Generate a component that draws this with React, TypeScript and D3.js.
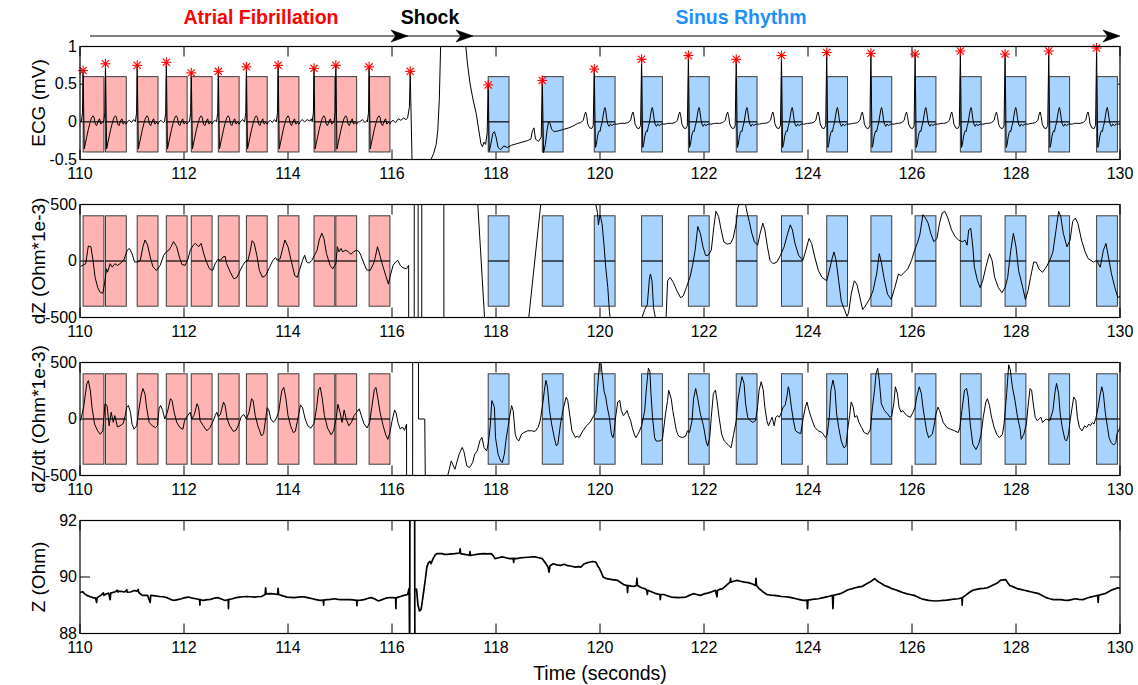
import React from 'react';
import * as d3 from 'd3';

type P = [number, number] | null;

// ---------------- axis ticks ----------------
const timeTicks = [110, 112, 114, 116, 118, 120, 122, 124, 126, 128, 130];
const ecgTicks = [-0.5, 0, 0.5, 1];
const ecgTickLabels = ['-0.5', '0', '0.5', '1'];
const dzTicks = [-500, 0, 500];
const dzTickLabels = ['-500', '0', '500'];
const zTicks = [88, 90, 92];
const zTickLabels = ['88', '90', '92'];

// ---------------- R peaks (stars) ----------------
const afPeakTimes = [110.06, 110.49, 111.1, 111.66, 112.14, 112.66, 113.2, 113.81, 114.5, 114.92, 115.56, 116.35];
const afPeakValues = [0.68, 0.77, 0.75, 0.79, 0.65, 0.67, 0.73, 0.75, 0.71, 0.75, 0.73, 0.67];
const srPeakTimes = [117.85, 118.89, 119.89, 120.8, 121.7, 122.62, 123.49, 124.36, 125.21, 126.06, 126.93, 127.79, 128.63, 129.55];
const srPeakValues = [0.49, 0.55, 0.7, 0.83, 0.88, 0.83, 0.88, 0.92, 0.91, 0.9, 0.94, 0.9, 0.94, 0.98];

// analysis windows (start times, seconds)
const afWindows = [110.06, 110.49, 111.1, 111.66, 112.14, 112.66, 113.2, 113.81, 114.5, 114.92, 115.56];
const srWindows = [117.85, 118.89, 119.89, 120.8, 121.7, 122.62, 123.49, 124.36, 125.21, 126.06, 126.93, 127.79, 128.63, 129.55];
const windowLength = 0.4;

// ---------------- ECG beat morphology (offset s from R, mV; NaN = R peak) ----------------
const afBeatShape: [number, number][] = [
  [-0.035, 0.0], [-0.012, 0.12], [0, NaN], [0.022, -0.36], [0.045, -0.28], [0.07, -0.2], [0.1, -0.1],
  [0.13, -0.02], [0.16, 0.05], [0.19, 0.08], [0.21, 0.06], [0.235, -0.03], [0.26, -0.05], [0.29, 0.01],
  [0.315, 0.04], [0.34, -0.03], [0.37, -0.01], [0.4, -0.03], [0.42, 0.0],
];
const srBeatShape: [number, number][] = [
  [-0.32, -0.02], [-0.26, -0.01], [-0.21, 0.02], [-0.185, 0.1], [-0.165, 0.13], [-0.145, 0.07],
  [-0.125, -0.03], [-0.09, -0.08], [-0.05, -0.09], [-0.02, -0.05], [0, NaN], [0.022, -0.34], [0.04, -0.3],
  [0.06, -0.2], [0.08, -0.14], [0.095, -0.12], [0.11, -0.13], [0.13, -0.06], [0.15, -0.01], [0.17, 0.08],
  [0.19, 0.16], [0.205, 0.19], [0.22, 0.15], [0.24, 0.04], [0.26, -0.03], [0.285, -0.06], [0.31, -0.03],
  [0.34, -0.05], [0.38, -0.03], [0.45, -0.03], [0.5, -0.02],
];
// fibrillatory baseline between AF beats
const ecgAfGaps: [number, number][] = [
  [110.0, 0.01], [110.95, 0.02], [110.99, -0.01], [111.03, 0.03], [111.56, 0.02], [111.6, -0.01], [112.6, 0.02],
  [113.13, 0.03], [113.16, 0.0], [113.66, 0.02], [113.7, -0.01], [113.74, 0.03], [113.77, 0.0],
  [114.27, 0.03], [114.32, 0.0], [114.37, 0.03], [114.42, 0.01], [114.45, 0.04],
  [115.38, 0.0], [115.43, 0.03], [115.48, -0.01], [115.52, 0.02],
  [116.02, 0.02], [116.07, -0.01], [116.12, 0.04], [116.17, 0.02], [116.22, 0.05], [116.27, 0.03],
];
// shock and first two sinus beats
const ecgShock: [number, number][] = [
  [116.3, 0.05], [116.335, 0.2], [116.35, 0.67], [116.385, -0.5], [116.4, -3], [116.7, -3], [116.75, -0.5],
  [116.8, -0.42], [116.85, -0.3], [116.88, -0.12], [116.91, 0.3], [116.935, 1.0], [116.96, 3], [117.38, 3],
  [117.42, 1.0], [117.45, 0.78], [117.5, 0.51], [117.56, 0.29], [117.62, 0.11], [117.68, -0.16], [117.71, -0.29],
  [117.74, -0.33], [117.77, -0.27], [117.8, -0.3], [117.83, -0.15], [117.85, 0.49], [117.87, -0.39], [117.9, -0.3],
  [117.94, -0.15], [117.97, -0.13], [118.0, -0.2], [118.04, -0.34], [118.09, -0.37], [118.15, -0.32], [118.22, -0.34],
  [118.3, -0.31], [118.4, -0.29], [118.5, -0.27], [118.6, -0.25], [118.67, -0.23], [118.7, -0.12], [118.73, -0.08],
  [118.76, -0.23], [118.82, -0.26], [118.87, -0.2], [118.89, 0.55], [118.915, -0.41], [118.95, -0.3], [118.98, -0.12],
  [119.01, 0.0], [119.04, -0.02], [119.07, -0.1], [119.12, -0.13], [119.2, -0.12], [119.3, -0.1], [119.4, -0.08],
  [119.5, -0.05],
];

// ---------------- dZ (Ohm*1e-3) ----------------
const dzTrace: P[] = [
  [110.01, -48], [110.11, -24], [110.16, 132], [110.21, 126], [110.25, 6], [110.29, -144], [110.34, -234], [110.39, -279],
  [110.44, -285], [110.48, -174], [110.51, -69], [110.53, -99], [110.58, -24], [110.62, -54], [110.67, -24], [110.72, -39],
  [110.77, -24], [110.84, 6], [110.91, 96], [110.95, 111], [111.0, 66], [111.05, -9], [111.11, -9], [111.16, 6],
  [111.21, 126], [111.25, 186], [111.3, 141], [111.35, 36], [111.4, -48], [111.47, -84], [111.54, -39], [111.61, 51],
  [111.66, 81], [111.71, 96], [111.75, 126], [111.8, 171], [111.86, 126], [111.91, 36], [111.96, -30], [112.02, -39],
  [112.07, 6], [112.12, 96], [112.18, 141], [112.22, 156], [112.28, 126], [112.33, 156], [112.37, 81], [112.42, 6],
  [112.49, -69], [112.55, -84], [112.6, -24], [112.65, 15], [112.7, 6], [112.75, 36], [112.79, 42], [112.82, -24],
  [112.89, -99], [112.96, -159], [113.02, -144], [113.08, -84], [113.13, -39], [113.17, -9], [113.23, 6], [113.27, 81],
  [113.31, 180], [113.35, 156], [113.4, 51], [113.45, -84], [113.51, -144], [113.57, -129], [113.64, -60], [113.71, 6],
  [113.76, 30], [113.79, 6], [113.85, 21], [113.89, 96], [113.94, 186], [114.0, 126], [114.06, 6], [114.13, -129],
  [114.18, -144], [114.22, -84], [114.28, 6], [114.32, 51], [114.36, -9], [114.41, -18], [114.46, 6], [114.51, 51],
  [114.56, 96], [114.6, 186], [114.65, 246], [114.69, 201], [114.74, 66], [114.81, -39], [114.86, -69], [114.92, -24],
  [114.95, 126], [114.98, 81], [115.02, 111], [115.05, 81], [115.11, 96], [115.16, 81], [115.21, 60], [115.26, 81],
  [115.32, 96], [115.37, 81], [115.4, 51], [115.45, -9], [115.51, -78], [115.58, -84], [115.65, -18], [115.68, 36],
  [115.72, 126], [115.75, 81], [115.81, -24], [115.88, -129], [115.93, -204], [115.96, -144], [116.02, -39], [116.07, -9],
  [116.11, 6], [116.16, -39], [116.21, -60], [116.28, -69], [116.32, -39],
  [116.325, -3000], [116.425, -3000], [116.43, 3000], [116.5, 3000], [116.505, -3000], [116.57, -3000], [116.575, 3000],
  [116.995, 3000], [117.0, -3000], null,
  [117.6, 3000], [117.65, 500], [117.78, -500], [117.8, -3000], [118.6, -3000], [118.63, -500], [118.86, 500], [118.88, 3000],
  [119.88, 3000], [119.92, 500], [119.95, 430], [119.97, 320], [120.0, 410], [120.04, 330], [120.08, 125], [120.11, -55],
  [120.15, -235], [120.18, -445], [120.2, -520], [120.25, -3000], [120.75, -3000], [120.8, -510], [120.86, -430],
  [120.91, -385], [120.95, -160], [120.97, -115], [121.0, -175], [121.03, -415], [121.07, -515], [121.1, -3000],
  [121.22, -3000], [121.27, -510], [121.3, -175], [121.35, -145], [121.41, -190], [121.48, -265], [121.55, -325],
  [121.6, -310], [121.66, -235], [121.73, -145], [121.78, -40], [121.83, 95], [121.88, 305], [121.93, 245], [121.98, 125],
  [122.03, 50], [122.08, 50], [122.14, 95], [122.19, 305], [122.23, 440], [122.28, 395], [122.33, 275], [122.38, 170],
  [122.44, 150], [122.51, 155], [122.56, 200], [122.62, 335], [122.65, 470], [122.69, 520], [122.79, 520], [122.83, 425],
  [122.87, 350], [122.92, 245], [122.97, 170], [123.03, 140], [123.08, 245], [123.13, 335], [123.17, 275], [123.22, 125],
  [123.27, 5], [123.33, -25], [123.4, -10], [123.47, 50], [123.54, 125], [123.61, 245], [123.66, 320], [123.7, 275],
  [123.75, 155], [123.82, 50], [123.9, 5], [123.95, 80], [124.02, 200], [124.07, 155], [124.13, 35], [124.2, -85],
  [124.27, -145], [124.36, -175], [124.41, -85], [124.47, 35], [124.5, 80], [124.54, 5], [124.59, -175], [124.64, -355],
  [124.7, -430], [124.75, -490], [124.78, -460], [124.83, -295], [124.89, -175], [124.94, -205], [125.0, -325],
  [125.05, -430], [125.1, -400], [125.18, -340], [125.25, -265], [125.32, -115], [125.37, 65], [125.41, -10],
  [125.46, -145], [125.53, -295], [125.6, -340], [125.67, -235], [125.74, -115], [125.79, -130], [125.85, -100],
  [125.92, -70], [125.99, 5], [126.05, 95], [126.1, 155], [126.15, 230], [126.21, 410], [126.26, 380], [126.31, 335],
  [126.36, 245], [126.42, 170], [126.48, 200], [126.53, 335], [126.58, 425], [126.63, 440], [126.69, 380], [126.76, 275],
  [126.83, 215], [126.9, 185], [126.97, 170], [127.02, 185], [127.06, 140], [127.09, 275], [127.13, 290], [127.17, 125],
  [127.2, -55], [127.26, -175], [127.31, -235], [127.36, -175], [127.42, -55], [127.49, 65], [127.54, 5], [127.59, -145],
  [127.66, -235], [127.73, -280], [127.79, -235], [127.84, -145], [127.9, 95], [127.95, 245], [128.0, 125], [128.05, -85],
  [128.13, -235], [128.18, -340], [128.23, -265], [128.28, -145], [128.34, -10], [128.39, -10], [128.44, -70],
  [128.51, -100], [128.58, -55], [128.65, 5], [128.71, 80], [128.77, 275], [128.82, 440], [128.86, 395], [128.91, 245],
  [128.98, 125], [129.04, 185], [129.09, 350], [129.14, 380], [129.19, 335], [129.26, 185], [129.33, 80], [129.39, 20],
  [129.44, 5], [129.49, -10], [129.55, 5], [129.62, -55], [129.68, 95], [129.73, 155], [129.76, 80], [129.83, -100],
  [129.9, -235], [129.96, -325], [130.0, -310],
];

// ---------------- dZ/dt (Ohm*1e-3) ----------------
const dzdtTrace: P[] = [
  [110.01, -15], [110.07, 105], [110.13, 310], [110.16, 340], [110.2, 250], [110.23, 105], [110.28, -45], [110.34, -105],
  [110.39, -135], [110.44, -105], [110.48, 135], [110.52, 120], [110.56, -60], [110.6, 60], [110.64, -30], [110.67, 30],
  [110.72, -70], [110.77, -60], [110.83, -40], [110.87, 30], [110.9, 105], [110.93, 120], [110.97, 60], [111.0, -45],
  [111.04, -90], [111.09, -60], [111.13, 75], [111.18, 220], [111.21, 270], [111.25, 220], [111.28, 105], [111.33, -30],
  [111.39, -60], [111.45, -75], [111.49, -60], [111.52, 90], [111.55, 120], [111.59, 75], [111.63, 0], [111.68, 60],
  [111.74, 180], [111.77, 165], [111.81, 60], [111.86, -30], [111.92, -75], [111.98, -90], [112.01, -15], [112.07, 30],
  [112.12, 60], [112.15, 0], [112.2, 40], [112.25, 135], [112.28, 105], [112.31, -15], [112.37, -60], [112.44, -105],
  [112.5, -75], [112.55, -30], [112.6, 30], [112.63, 60], [112.66, 20], [112.7, 40], [112.76, 150], [112.79, 120],
  [112.83, 0], [112.88, -60], [112.95, -110], [113.0, -100], [113.05, -50], [113.1, 20], [113.15, 40], [113.2, 0],
  [113.25, 60], [113.3, 180], [113.33, 160], [113.37, 30], [113.42, -60], [113.49, -150], [113.53, -130], [113.57, 0],
  [113.6, 100], [113.63, 80], [113.67, 0], [113.72, -30], [113.77, 0], [113.82, 60], [113.88, 250], [113.92, 280],
  [113.96, 180], [114.0, 30], [114.05, -60], [114.1, -120], [114.14, -110], [114.19, 0], [114.24, 125], [114.28, 100],
  [114.33, 0], [114.38, -60], [114.44, -80], [114.5, -40], [114.55, 100], [114.59, 260], [114.62, 280], [114.66, 180],
  [114.7, 30], [114.76, -80], [114.83, -140], [114.88, -100], [114.93, 20], [114.96, 130], [115.0, 60], [115.04, -30],
  [115.08, 80], [115.12, 0], [115.17, -60], [115.22, -30], [115.27, 30], [115.32, 60], [115.37, 90], [115.41, 30],
  [115.46, -40], [115.52, -80], [115.57, -30], [115.61, 100], [115.66, 260], [115.69, 280], [115.73, 180], [115.77, 60],
  [115.83, -60], [115.88, -140], [115.92, -180], [115.96, -120], [116.0, -20], [116.05, 80], [116.08, 50], [116.12, -40],
  [116.16, -90], [116.2, -70], [116.24, -100], [116.28, -45],
  [116.285, -3000], [116.395, -3000], [116.4, 3000], [116.505, 3000], [116.51, 0], [116.63, 0], [116.69, -3000],
  [117.03, -3000], [117.07, -505], [117.14, -371], [117.21, -445], [117.29, -312], [117.35, -252], [117.38, -282],
  [117.44, -416], [117.49, -431], [117.55, -386], [117.59, -312], [117.64, -282], [117.69, -193], [117.73, -163],
  [117.77, -252], [117.82, -282], [117.85, -223], [117.89, -59], [117.92, 163], [117.97, 104], [117.99, -163],
  [118.04, -312], [118.09, -371], [118.12, -386], [118.16, -312], [118.19, -193], [118.23, -74], [118.26, 15],
  [118.3, 119], [118.33, 74], [118.37, -134], [118.4, -178], [118.44, -193], [118.49, -134], [118.54, -119],
  [118.61, -104], [118.68, -104], [118.75, -110], [118.81, -74], [118.85, -15], [118.89, 104], [118.93, 252],
  [118.96, 342], [118.99, 282], [119.03, 74], [119.07, -45], [119.12, -163], [119.16, -238], [119.19, -223],
  [119.24, -45], [119.3, 104], [119.35, 193], [119.38, 163], [119.46, -105], [119.53, -165], [119.56, -150],
  [119.6, -165], [119.67, -105], [119.74, -60], [119.81, -30], [119.88, 30], [119.92, 60], [119.95, 255], [119.99, 495],
  [120.01, 540], [120.04, 405], [120.08, 240], [120.11, 195], [120.14, 105], [120.18, 15], [120.22, -135], [120.25, -165],
  [120.27, -120], [120.3, 15], [120.34, 150], [120.38, 165], [120.41, 75], [120.45, 30], [120.48, 45], [120.52, 75],
  [120.55, 30], [120.59, -15], [120.62, -75], [120.66, -135], [120.69, -165], [120.73, -135], [120.76, -105], [120.8, -60],
  [120.86, 75], [120.89, 255], [120.93, 450], [120.96, 420], [120.98, 225], [121.01, 15], [121.05, -165], [121.08, -195],
  [121.15, -195], [121.2, -180], [121.26, 45], [121.3, 165], [121.32, 255], [121.37, 180], [121.4, 75], [121.44, -30],
  [121.47, -105], [121.51, -150], [121.58, -165], [121.65, -150], [121.68, -105], [121.72, -120], [121.77, -15],
  [121.8, 180], [121.84, 270], [121.88, 180], [121.93, 45], [121.99, -60], [122.04, -195], [122.07, -240], [122.11, -165],
  [122.14, 15], [122.18, 225], [122.22, 255], [122.25, 165], [122.29, 15], [122.34, -135], [122.39, -195], [122.46, -225],
  [122.52, -255], [122.57, -135], [122.62, -15], [122.65, 165], [122.7, 300], [122.73, 375], [122.77, 315], [122.8, 135],
  [122.84, 15], [122.89, -15], [122.94, -30], [122.99, -15], [123.03, 105], [123.06, 255], [123.1, 330], [123.14, 255],
  [123.17, 105], [123.21, -15], [123.24, -60], [123.28, -15], [123.31, 15], [123.35, -60], [123.38, 15], [123.42, 30],
  [123.45, 15], [123.49, 60], [123.52, 105], [123.56, 120], [123.6, 210], [123.62, 285], [123.64, 255], [123.68, 105],
  [123.72, -15], [123.76, -105], [123.81, -120], [123.86, -130], [123.91, 15], [123.95, 105], [123.98, 150], [124.02, 75],
  [124.06, 15], [124.13, -75], [124.2, -105], [124.27, -120], [124.34, -165], [124.37, -135], [124.41, 15], [124.44, 255],
  [124.48, 345], [124.52, 255], [124.55, 45], [124.59, -75], [124.64, -195], [124.69, -255], [124.73, -240], [124.76, -105],
  [124.8, 30], [124.83, 150], [124.87, 105], [124.9, 15], [124.94, 30], [124.98, -30], [125.03, -75], [125.08, -120],
  [125.15, -135], [125.2, -90], [125.24, 105], [125.28, 255], [125.31, 405], [125.34, 450], [125.37, 345], [125.41, 135],
  [125.47, 75], [125.53, 45], [125.58, 15], [125.61, 30], [125.65, 135], [125.68, 285], [125.72, 225], [125.75, 105],
  [125.79, 60], [125.82, 75], [125.9, 30], [125.97, 15], [126.02, 60], [126.06, 105], [126.09, 195], [126.14, 285],
  [126.18, 225], [126.21, 105], [126.25, -15], [126.28, -105], [126.32, -165], [126.39, -135], [126.43, -45], [126.46, 45],
  [126.5, 105], [126.53, 75], [126.57, 15], [126.6, -30], [126.67, -75], [126.74, -90], [126.82, -105], [126.89, -120],
  [126.92, -75], [126.96, 75], [127.01, 255], [127.05, 270], [127.08, 195], [127.12, -45], [127.17, -225], [127.23, -270],
  [127.28, -225], [127.33, -135], [127.37, 15], [127.42, 150], [127.45, 180], [127.49, 120], [127.53, 15], [127.58, -75],
  [127.63, -135], [127.68, -165], [127.74, -135], [127.77, -45], [127.82, 225], [127.86, 480], [127.89, 435], [127.93, 285],
  [127.98, 165], [128.03, 15], [128.08, -90], [128.1, -180], [128.15, -135], [128.2, -45], [128.23, 105], [128.27, 270],
  [128.3, 255], [128.34, 105], [128.37, 15], [128.41, -15], [128.48, 15], [128.51, -30], [128.58, 0], [128.65, -15],
  [128.71, 75], [128.75, 240], [128.78, 315], [128.82, 225], [128.85, 45], [128.89, -75], [128.94, -180], [128.97, -195],
  [129.01, -135], [129.04, -15], [129.08, 105], [129.11, 195], [129.15, 165], [129.18, 15], [129.22, -75], [129.27, -105],
  [129.32, -60], [129.36, -75], [129.4, -45], [129.43, -60], [129.47, -30], [129.5, -45], [129.54, 15], [129.58, 105],
  [129.61, 195], [129.65, 285], [129.68, 225], [129.72, 45], [129.76, -75], [129.79, -165], [129.83, -210], [129.88, -230],
  [129.92, -210], [129.94, -135], [130.0, -75],
];

// ---------------- Z (Ohm) ----------------
const zTrace: P[] = [
  [110.0, 89.45], [110.05, 89.48], [110.08, 89.42], [110.13, 89.35], [110.2, 89.3], [110.25, 89.27], [110.3, 89.25],
  [110.32, 89.1], [110.33, 89.27], [110.4, 89.35], [110.45, 89.44], [110.46, 89.35], [110.5, 89.4], [110.55, 89.43],
  [110.58, 89.2], [110.59, 89.43], [110.68, 89.48], [110.72, 89.53], [110.73, 89.47], [110.76, 89.5], [110.86, 89.47],
  [110.9, 89.55], [110.91, 89.46], [110.97, 89.47], [111.05, 89.52], [111.1, 89.5], [111.12, 89.56], [111.13, 89.45],
  [111.2, 89.35], [111.3, 89.35], [111.35, 89.1], [111.36, 89.35], [111.45, 89.33], [111.53, 89.31], [111.6, 89.3],
  [111.67, 89.27], [111.75, 89.2], [111.81, 89.17], [111.88, 89.2], [111.95, 89.23], [112.02, 89.27], [112.09, 89.29],
  [112.16, 89.25], [112.23, 89.23], [112.3, 89.2], [112.305, 89.0], [112.31, 89.2], [112.37, 89.17], [112.45, 89.2],
  [112.51, 89.21], [112.58, 89.25], [112.65, 89.27], [112.72, 89.22], [112.79, 89.17], [112.85, 89.2], [112.855, 88.88],
  [112.86, 89.2], [112.93, 89.23], [113.0, 89.27], [113.07, 89.29], [113.14, 89.3], [113.21, 89.31], [113.28, 89.3],
  [113.35, 89.29], [113.42, 89.3], [113.49, 89.31], [113.56, 89.38], [113.57, 89.62], [113.58, 89.4], [113.66, 89.41],
  [113.72, 89.4], [113.8, 89.38], [113.81, 89.6], [113.82, 89.38], [113.9, 89.33], [113.98, 89.29], [114.05, 89.28],
  [114.12, 89.27], [114.2, 89.29], [114.26, 89.3], [114.33, 89.29], [114.4, 89.26], [114.47, 89.23], [114.54, 89.2],
  [114.61, 89.17], [114.68, 89.18], [114.685, 89.0], [114.69, 89.18], [114.75, 89.2], [114.82, 89.21], [114.89, 89.23],
  [114.96, 89.21], [115.03, 89.2], [115.1, 89.2], [115.18, 89.2], [115.25, 89.19], [115.32, 89.17], [115.325, 88.98],
  [115.33, 89.17], [115.4, 89.18], [115.46, 89.2], [115.53, 89.24], [115.6, 89.27], [115.67, 89.22], [115.74, 89.15],
  [115.81, 89.2], [115.88, 89.25], [115.95, 89.27], [116.02, 89.27], [116.07, 89.25], [116.075, 88.88], [116.08, 89.26],
  [116.16, 89.31], [116.23, 89.35], [116.3, 89.38],
  [116.33, 89.6], [116.34, 87], [116.345, 93], null, [116.435, 93], [116.44, 87], null,
  [116.47, 89.6], [116.5, 89.0], [116.53, 88.8], [116.56, 88.85], [116.58, 89.1], [116.61, 89.5], [116.64, 89.9],
  [116.67, 90.35], [116.7, 90.5], [116.73, 90.55], [116.75, 90.47], [116.79, 90.65], [116.83, 90.78], [116.86, 90.83],
  [116.96, 90.83], [117.0, 90.8], [117.07, 90.8], [117.14, 90.82], [117.21, 90.83], [117.3, 90.85], [117.31, 91.0],
  [117.32, 90.83], [117.4, 90.8], [117.49, 90.77], [117.5, 90.9], [117.51, 90.76], [117.56, 90.78], [117.63, 90.8],
  [117.7, 90.82], [117.77, 90.83], [117.84, 90.82], [117.91, 90.83], [117.95, 90.75], [117.98, 90.65], [118.05, 90.68],
  [118.12, 90.71], [118.19, 90.68], [118.26, 90.65], [118.33, 90.66], [118.34, 90.52], [118.35, 90.66], [118.4, 90.65],
  [118.47, 90.68], [118.54, 90.69], [118.62, 90.7], [118.7, 90.71], [118.75, 90.71], [118.82, 90.68], [118.89, 90.65],
  [118.95, 90.5], [119.0, 90.35], [119.02, 90.17], [119.04, 90.4], [119.1, 90.47], [119.17, 90.43], [119.24, 90.41],
  [119.31, 90.45], [119.38, 90.4], [119.45, 90.38], [119.53, 90.35], [119.58, 90.37], [119.63, 90.35], [119.7, 90.47],
  [119.75, 90.5], [119.81, 90.53], [119.86, 90.55], [119.92, 90.53], [119.95, 90.41], [119.99, 90.3], [120.02, 90.18],
  [120.06, 90.0], [120.13, 89.94], [120.23, 89.91], [120.34, 89.88], [120.41, 89.79], [120.47, 89.72], [120.52, 89.7],
  [120.53, 89.45], [120.54, 89.7], [120.6, 89.68], [120.66, 89.67], [120.7, 89.7], [120.71, 89.95], [120.72, 89.7],
  [120.8, 89.62], [120.87, 89.58], [120.9, 89.53], [120.91, 89.38], [120.92, 89.53], [121.0, 89.47], [121.08, 89.41],
  [121.15, 89.38], [121.16, 89.2], [121.17, 89.38], [121.23, 89.38], [121.3, 89.33], [121.37, 89.29], [121.44, 89.28],
  [121.51, 89.27], [121.58, 89.28], [121.65, 89.29], [121.72, 89.35], [121.79, 89.41], [121.86, 89.38], [121.93, 89.35],
  [122.0, 89.4], [122.07, 89.43], [122.15, 89.48], [122.22, 89.53], [122.25, 89.3], [122.26, 89.53], [122.3, 89.56],
  [122.36, 89.59], [122.43, 89.7], [122.5, 89.82], [122.51, 89.95], [122.52, 89.82], [122.57, 89.85], [122.64, 89.88],
  [122.7, 89.85], [122.78, 89.82], [122.85, 89.8], [122.92, 89.76], [122.99, 89.7], [123.0, 89.95], [123.01, 89.7],
  [123.06, 89.59], [123.13, 89.48], [123.21, 89.38], [123.28, 89.36], [123.35, 89.35], [123.42, 89.33], [123.49, 89.31],
  [123.56, 89.3], [123.63, 89.29], [123.7, 89.26], [123.77, 89.23], [123.84, 89.2], [123.91, 89.17], [123.98, 89.18],
  [123.99, 88.88], [124.0, 89.18], [124.06, 89.2], [124.13, 89.22], [124.2, 89.23], [124.27, 89.26], [124.34, 89.29],
  [124.41, 89.32], [124.47, 89.35], [124.48, 88.88], [124.49, 89.35], [124.55, 89.38], [124.62, 89.41], [124.7, 89.48],
  [124.77, 89.55], [124.84, 89.58], [124.91, 89.62], [124.98, 89.65], [125.05, 89.67], [125.12, 89.75], [125.19, 89.82],
  [125.28, 89.94], [125.36, 89.82], [125.42, 89.76], [125.47, 89.7], [125.54, 89.65], [125.61, 89.59], [125.68, 89.55],
  [125.75, 89.5], [125.82, 89.45], [125.89, 89.41], [125.96, 89.38], [126.04, 89.35], [126.11, 89.29], [126.18, 89.23],
  [126.25, 89.2], [126.32, 89.17], [126.39, 89.16], [126.46, 89.15], [126.53, 89.16], [126.6, 89.17], [126.67, 89.18],
  [126.74, 89.2], [126.81, 89.22], [126.89, 89.23], [126.96, 89.26], [126.965, 89.0], [126.97, 89.27], [127.03, 89.35],
  [127.1, 89.45], [127.17, 89.53], [127.24, 89.56], [127.31, 89.59], [127.38, 89.6], [127.45, 89.62], [127.52, 89.68],
  [127.59, 89.74], [127.65, 89.8], [127.7, 89.88], [127.75, 89.9], [127.8, 89.91], [127.84, 89.8], [127.88, 89.7],
  [127.95, 89.65], [128.02, 89.59], [128.09, 89.56], [128.16, 89.53], [128.23, 89.5], [128.3, 89.47], [128.37, 89.44],
  [128.44, 89.41], [128.51, 89.34], [128.58, 89.27], [128.65, 89.23], [128.72, 89.2], [128.79, 89.2], [128.86, 89.2],
  [128.93, 89.18], [129.0, 89.17], [129.07, 89.2], [129.14, 89.23], [129.21, 89.21], [129.29, 89.2], [129.36, 89.25],
  [129.43, 89.29], [129.5, 89.32], [129.57, 89.35], [129.58, 89.1], [129.59, 89.35], [129.64, 89.38], [129.71, 89.41],
  [129.78, 89.48], [129.85, 89.55], [129.9, 89.58], [129.96, 89.62], [130.0, 89.6],
];

// ---------------- layout ----------------
const W = 1138;
const H = 685;
const plotLeft = 80;
const plotRight = 1120;
const panelHeight = 113;
const FONT = 'Liberation Sans, Arial, Helvetica, sans-serif';
const PINK = '#ffb3b3';
const BLUE = '#a8d3ff';

function composeBeats(times: number[], peaks: number[], shape: [number, number][], lastStop: number): [number, number][] {
  const out: [number, number][] = [];
  times.forEach((r, i) => {
    const stop = i < times.length - 1 ? times[i + 1] + shape[0][0] - 0.004 : lastStop;
    shape.forEach(([dt, v]) => {
      const t = r + dt;
      if (dt > 0 && t >= stop) return;
      out.push([t, Number.isNaN(v) ? peaks[i] : v]);
    });
  });
  return out;
}

const x = d3.scaleLinear().domain([110, 130]).range([plotLeft, plotRight]);

function ecgTrace(): P[] {
  const af = composeBeats(afPeakTimes.slice(0, 11), afPeakValues.slice(0, 11), afBeatShape, 116.296);
  const sr = composeBeats(srPeakTimes.slice(2), srPeakValues.slice(2), srBeatShape, 130.001);
  const all = [...af, ...ecgAfGaps, ...ecgShock, ...sr].filter((p) => p[0] >= 110 && p[0] <= 130);
  return d3.sort(all, (p) => p[0]) as P[];
}

type Panel = {
  id: string;
  top: number;
  domain: [number, number];
  ticks: number[];
  tickLabels: string[];
  label: string;
  windowRange: [number, number] | null;
  data: P[];
  stroke: number;
};

function Star({ cx, cy }: { cx: number; cy: number }) {
  const r = 5;
  const d = r * 0.72;
  return (
    <g stroke="#ff0000" strokeWidth={1.1}>
      <line x1={cx - r} y1={cy} x2={cx + r} y2={cy} />
      <line x1={cx} y1={cy - r} x2={cx} y2={cy + r} />
      <line x1={cx - d} y1={cy - d} x2={cx + d} y2={cy + d} />
      <line x1={cx - d} y1={cy + d} x2={cx + d} y2={cy - d} />
    </g>
  );
}

function ArrowHead({ tipX, y }: { tipX: number; y: number }) {
  const L = 17;
  const h = 6;
  const d = `M${tipX},${y} L${tipX - L},${y - h} L${tipX - L * 0.72},${y} L${tipX - L},${y + h} Z`;
  return <path d={d} fill="#000" stroke="#000" strokeWidth={0.6} strokeLinejoin="miter" />;
}

export default function App() {
  const panels: Panel[] = [
    { id: 'ecg', top: 46.5, domain: [-0.5, 1], ticks: ecgTicks, tickLabels: ecgTickLabels, label: 'ECG (mV)', windowRange: [-0.4, 0.6], data: ecgTrace(), stroke: 1 },
    { id: 'dz', top: 204.5, domain: [-500, 500], ticks: dzTicks, tickLabels: dzTickLabels, label: 'dZ (Ohm*1e-3)', windowRange: [-400, 400], data: dzTrace, stroke: 1 },
    { id: 'dzdt', top: 362.5, domain: [-500, 500], ticks: dzTicks, tickLabels: dzTickLabels, label: 'dZ/dt (Ohm*1e-3)', windowRange: [-400, 400], data: dzdtTrace, stroke: 1 },
    { id: 'z', top: 520.5, domain: [88, 92], ticks: zTicks, tickLabels: zTickLabels, label: 'Z (Ohm)', windowRange: null, data: zTrace, stroke: 1.7 },
  ];

  const arrowY = 36;

  return (
    <div style={{ position: 'absolute', left: 0, top: 0, width: W, height: H, background: '#fff' }}>
      <svg width={W} height={H} viewBox={`0 0 ${W} ${H}`} style={{ display: 'block' }} fontFamily={FONT}>
        <rect x={0} y={0} width={W} height={H} fill="#fff" />
        {/* phase titles */}
        <text x={261} y={24} textAnchor="middle" fontSize={19.5} fontWeight="bold" fill="#ff0000">Atrial Fibrillation</text>
        <text x={430} y={24} textAnchor="middle" fontSize={19.5} fontWeight="bold" fill="#000">Shock</text>
        <text x={741} y={24} textAnchor="middle" fontSize={19.5} fontWeight="bold" fill="#1e8fff">Sinus Rhythm</text>
        {/* arrows */}
        <line x1={90} y1={arrowY} x2={plotRight - 4} y2={arrowY} stroke="#000" strokeWidth={1} />
        <ArrowHead tipX={408} y={arrowY} />
        <ArrowHead tipX={473} y={arrowY} />
        <ArrowHead tipX={plotRight} y={arrowY} />

        {panels.map((p) => {
          const y = d3.scaleLinear().domain(p.domain).range([p.top + panelHeight, p.top]);
          const line = d3
            .line<P>()
            .defined((d) => d !== null)
            .x((d) => x((d as [number, number])[0]))
            .y((d) => y((d as [number, number])[1]));
          const clipId = `clip-${p.id}`;
          const bottom = p.top + panelHeight;
          const mid = p.top + panelHeight / 2;
          const tickLen = 10;
          const windows = p.windowRange
            ? [
                ...afWindows.map((t) => ({ t, fill: PINK })),
                ...srWindows.map((t) => ({ t, fill: BLUE })),
              ]
            : [];
          return (
            <g key={p.id}>
              <defs>
                <clipPath id={clipId}>
                  <rect x={plotLeft} y={p.top} width={plotRight - plotLeft} height={panelHeight} />
                </clipPath>
              </defs>
              {/* ticks (under data) */}
              <g stroke="#000" strokeWidth={1}>
                {timeTicks.map((t) => (
                  <g key={`xt${t}`}>
                    <line x1={x(t)} y1={bottom} x2={x(t)} y2={bottom - tickLen} />
                    <line x1={x(t)} y1={p.top} x2={x(t)} y2={p.top + tickLen} />
                  </g>
                ))}
                {p.ticks.map((v) => (
                  <g key={`yt${v}`}>
                    <line x1={plotLeft} y1={y(v)} x2={plotLeft + tickLen} y2={y(v)} />
                    <line x1={plotRight} y1={y(v)} x2={plotRight - tickLen} y2={y(v)} />
                  </g>
                ))}
              </g>
              {/* analysis windows */}
              {p.windowRange &&
                windows.map((w, i) => (
                  <g key={`w${i}`}>
                    <rect
                      x={x(w.t)}
                      y={y(p.windowRange![1])}
                      width={x(w.t + windowLength) - x(w.t)}
                      height={y(p.windowRange![0]) - y(p.windowRange![1])}
                      fill={w.fill}
                      stroke="#3c3c3c"
                      strokeWidth={1}
                    />
                    <line x1={x(w.t)} x2={x(w.t + windowLength)} y1={y(0)} y2={y(0)} stroke="#000" strokeWidth={1.2} />
                  </g>
                ))}
              {/* signal */}
              <path d={line(p.data) || ''} fill="none" stroke="#000" strokeWidth={p.stroke} strokeLinejoin="round" clipPath={`url(#${clipId})`} />
              {/* R peak markers */}
              {p.id === 'ecg' && (
                <g>
                  {afPeakTimes.map((t, i) => (
                    <Star key={`a${i}`} cx={x(t)} cy={y(afPeakValues[i])} />
                  ))}
                  {srPeakTimes.map((t, i) => (
                    <Star key={`s${i}`} cx={x(t)} cy={y(srPeakValues[i])} />
                  ))}
                </g>
              )}
              {/* frame */}
              <rect x={plotLeft} y={p.top} width={plotRight - plotLeft} height={panelHeight} fill="none" stroke="#000" strokeWidth={1.2} />
              {/* tick labels */}
              {timeTicks.map((t) => (
                <text key={`xl${t}`} x={x(t)} y={bottom + 19} textAnchor="middle" fontSize={16} fill="#000">
                  {t}
                </text>
              ))}
              {p.ticks.map((v, i) => (
                <text key={`yl${v}`} x={plotLeft - 3} y={y(v) + 5} textAnchor="end" fontSize={16} fill="#000">
                  {p.tickLabels[i]}
                </text>
              ))}
              {/* axis label */}
              <text
                transform={`translate(38,${mid}) rotate(-90)`}
                textAnchor="middle"
                dominantBaseline="central"
                fontSize={19}
                fill="#000"
              >
                {p.label}
              </text>
            </g>
          );
        })}
        <text x={600} y={680} textAnchor="middle" fontSize={19.5} fill="#000">Time (seconds)</text>
      </svg>
    </div>
  );
}
